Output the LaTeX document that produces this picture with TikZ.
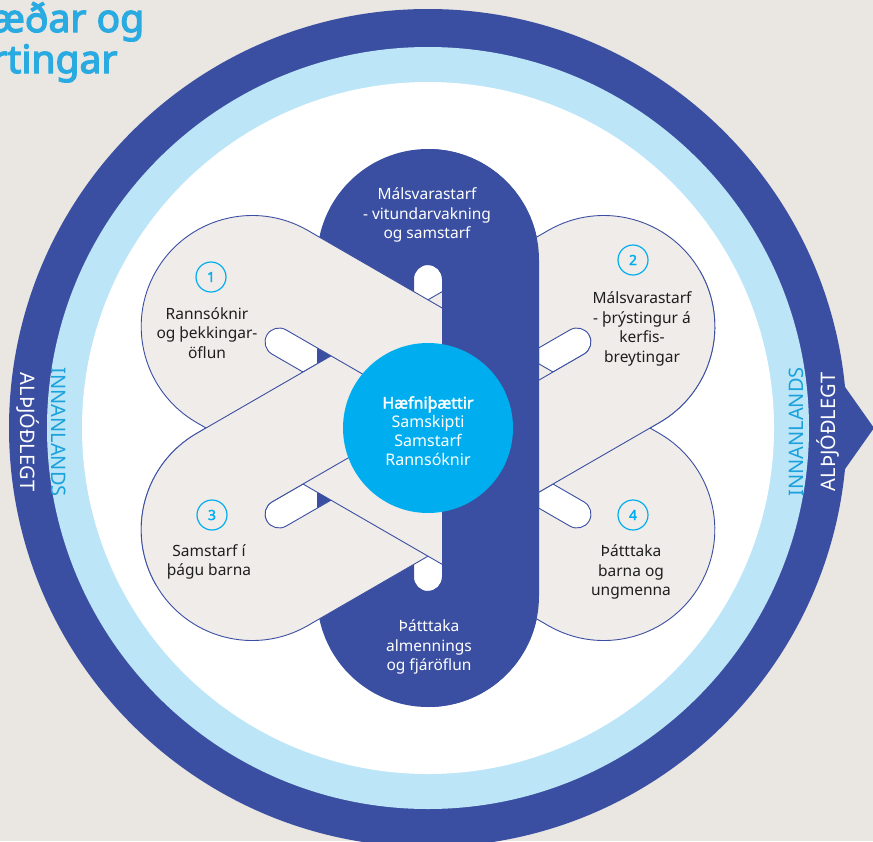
\documentclass[tikz,border=0pt]{standalone}
\usepackage{fontspec}
\setmainfont{Noto Sans}[AutoFakeBold=2.2]
\newfontfamily\heavyfont{Noto Sans}[FakeBold=3.2]
\definecolor{bgc}{RGB}{234,230,225}
\definecolor{petalc}{RGB}{240,236,233}
\definecolor{navyc}{RGB}{59,79,162}
\definecolor{ringlight}{RGB}{188,230,248}
\definecolor{cyanc}{RGB}{0,174,239}
\definecolor{titlec}{RGB}{41,171,226}
\definecolor{innc}{RGB}{27,161,219}
\definecolor{inkc}{RGB}{30,30,30}
\newcommand\stadiumpath[2]{(-#1,-#2) -- (#1,-#2) arc[start angle=-90,end angle=90,radius=#2] -- (-#1,#2) arc[start angle=90,end angle=270,radius=#2] -- cycle}
\newcommand\ringApath{\stadiumpath{168}{111} \stadiumpath{149}{14}}
\newcommand\ringBCpath{\stadiumpath{203}{111} \stadiumpath{172}{14}}
\tikzset{
  ringA/.style={fill=navyc,even odd rule},
  ringBC/.style={fill=petalc,draw=navyc,line width=0.9pt,even odd rule},
  petaltext/.style={align=center,text=inkc,font=\fontsize{15.5}{19.5}\selectfont,inner sep=0pt},
  pilltext/.style={align=center,text=white,font=\fontsize{15.5}{19.5}\selectfont,inner sep=0pt},
  numcirc/.style={circle,draw=cyanc,line width=1.2pt,minimum size=30pt,inner sep=0pt,text=cyanc,font=\bfseries\fontsize{14}{14}\selectfont},
  ringlabel/.style={font=\fontsize{20}{20}\selectfont,inner sep=0pt},
  titletext/.style={anchor=base west,inner sep=0pt,text=titlec,font=\heavyfont\fontsize{39}{40}\selectfont},
}
\begin{document}
\begin{tikzpicture}[x=1pt,y=-1pt]
\useasboundingbox (0,0) rectangle (873,841);
\fill[bgc] (0,0) rectangle (873,841);
% outer rings
\fill[navyc] (428,428) circle[radius=419];
\fill[navyc] (838,377) -- (874,428) -- (838,479) -- cycle;
\fill[ringlight] (428,428) circle[radius=381];
\fill[white] (428,428) circle[radius=346];
% ring A (vertical), lowest layer
\begin{scope}[shift={(428,428)},rotate=90]
  \path[ringA] \ringApath;
\end{scope}
% ring C (ascending)
\begin{scope}[shift={(428,428)},rotate=30]
  \path[ringBC] \ringBCpath;
\end{scope}
% ring B (descending)
\begin{scope}[shift={(428,428)},rotate=-30]
  \path[ringBC] \ringBCpath;
\end{scope}
% ring C over B in the side wedges
\begin{scope}
  \clip (428,428) -- +(210:700) -- +(150:700) -- cycle (428,428) -- +(-30:700) -- +(30:700) -- cycle;
  \begin{scope}[shift={(428,428)},rotate=30]
    \path[ringBC] \ringBCpath;
  \end{scope}
\end{scope}
% right half of ring A on top
\begin{scope}
  \clip (428,0) rectangle (873,841);
  \begin{scope}[shift={(428,428)},rotate=90]
    \path[ringA] \ringApath;
  \end{scope}
\end{scope}
% centre
\node (core) [circle,fill=cyanc,minimum size=170pt,inner sep=0pt] at (428,428) {};
\node (coretext) [align=center,text=white,inner sep=0pt,font=\fontsize{16}{19}\selectfont] at (428,431) {\textbf{Hæfniþættir}\\Samskipti\\Samstarf\\Rannsóknir};
% pill texts
\node (topA) [pilltext] at (427,215) {Málsvarastarf\\- vitundarvakning\\og samstarf};
\node (botA) [pilltext] at (429,647) {Þátttaka\\almennings\\og fjáröflun};
% petals
\node (n1) [numcirc] at (211,277) {1};
\node (p1) [petaltext] at (207,333) {Rannsóknir\\og þekkingar-\\öflun};
\node (n2) [numcirc] at (633,260) {2};
\node (p2) [petaltext] at (642,329) {Málsvarastarf\\- þrýstingur á\\kerfis-\\breytingar};
\node (n3) [numcirc] at (212,515) {3};
\node (p3) [petaltext] at (209,562) {Samstarf í\\þágu barna};
\node (n4) [numcirc] at (633,515) {4};
\node (p4) [petaltext] at (631,572) {Þátttaka\\barna og\\ungmenna};
% ring labels
\node (intL) [ringlabel,text=white,rotate=-90] at (28,432) {ALÞJÓÐLEGT};
\node (domL) [ringlabel,text=innc,rotate=-90] at (59,432) {INNANLANDS};
\node (intR) [ringlabel,text=white,rotate=90] at (828,432) {ALÞJÓÐLEGT};
\node (domR) [ringlabel,text=innc,rotate=90] at (796,432) {INNANLANDS};
% title (cut by the left edge)
\node (title1) [titletext] at (-9,32) {æðar og};
\node (title2) [titletext] at (-9,73) {rtingar};
\end{tikzpicture}
\end{document}
